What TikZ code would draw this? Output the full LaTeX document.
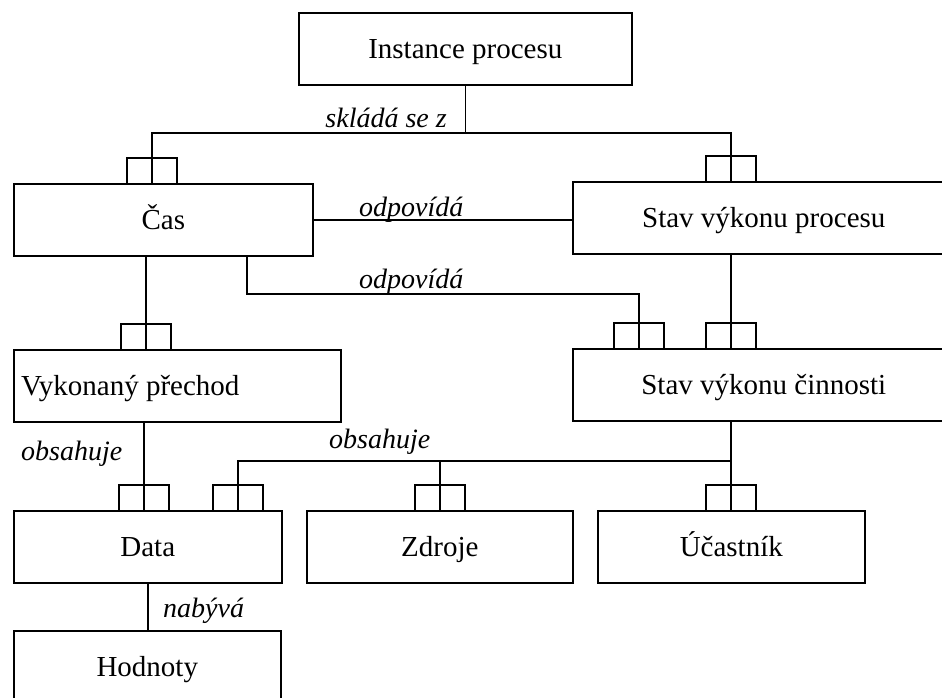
\documentclass[tikz,border=0pt]{standalone}
\usepackage{fontspec}
\setmainfont{Liberation Serif}
\usetikzlibrary{calc}
\tikzset{
  box/.style={draw, line width=1.6pt, inner sep=0pt, anchor=north west, minimum height=72pt},
  txt/.style={inner sep=0pt, font=\fontsize{29}{34}\selectfont, text height=19pt, text depth=0pt},
  lab/.style={inner sep=0pt, font=\fontsize{28}{32}\selectfont\itshape},
  conn/.style={line width=1.6pt},
  fork/.pic={\draw[conn] (-25,0) -- (-25,-25) -- (25,-25) -- (25,0);}
}
\begin{document}
\begin{tikzpicture}[x=1pt,y=-1pt]
\useasboundingbox (0,0) rectangle (942,697);
\fill[white] (0,0) rectangle (942,697);
\clip (0,0) rectangle (942,697);
% boxes
\node[box, minimum width=333pt] (inst) at (298,12) {};
\node[box, minimum width=299pt] (cas) at (13,183) {};
\node[box, minimum width=382pt] (svp) at (572,181) {};
\node[box, minimum width=327pt] (vyk) at (13,349) {};
\node[box, minimum width=382pt] (svc) at (572,348) {};
\node[box, minimum width=268pt] (data) at (13,510) {};
\node[box, minimum width=266pt] (zdroje) at (306,510) {};
\node[box, minimum width=267pt] (ucast) at (597,510) {};
\node[box, minimum width=267pt] (hod) at (13,630) {};
% box texts
\node[txt] (tinst) at (inst.center) {Instance procesu};
\node[txt] (tcas) at (cas.center) {Čas};
\node[txt] (tsvp) at (svp.center) {Stav výkonu procesu};
\node[txt, anchor=west] (tvyk) at ($(vyk.west)+(8,0)$) {Vykonaný přechod};
\node[txt] (tsvc) at (svc.center) {Stav výkonu činnosti};
\node[txt] (tdata) at (data.center) {Data};
\node[txt] (tzdr) at (zdroje.center) {Zdroje};
\node[txt] (tuc) at (ucast.center) {Účastník};
\node[txt] (thod) at (hod.center) {Hodnoty};
% fork points
\coordinate (fcas) at ($(cas.north west)+(139,0)$);
\coordinate (fsvp) at ($(svp.north west)+(159,0)$);
\coordinate (fvyk) at ($(vyk.north west)+(133,0)$);
\coordinate (fsvcA) at ($(svc.north west)+(67,0)$);
\coordinate (fsvcB) at ($(svc.north west)+(159,0)$);
\coordinate (fdatA) at ($(data.north west)+(131,0)$);
\coordinate (fdatB) at ($(data.north west)+(225,0)$);
\coordinate (fzdr) at (zdroje.north);
\coordinate (fuc) at ($(ucast.north west)+(134,0)$);
\coordinate (csvc) at ($(cas.south west)+(234,0)$);
\coordinate (busA) at (0,133);
\coordinate (busB) at (0,294);
\coordinate (busC) at (0,461);
% connectors
\draw[conn] (inst.south) -- (inst.south |- busA);
\draw[conn] (fcas) -- (fcas |- busA) -- (fsvp |- busA) -- (fsvp);
\draw[conn] (cas.east) -- (cas.east -| svp.west);
\draw[conn] (fvyk |- cas.south) -- (fvyk);
\draw[conn] (csvc) -- (csvc |- busB) -- (fsvcA |- busB) -- (fsvcA);
\draw[conn] (fsvcB |- svp.south) -- (fsvcB);
\draw[conn] (fdatA |- vyk.south) -- (fdatA);
\draw[conn] (fuc |- svc.south) -- (fuc);
\draw[conn] (fdatB) -- (fdatB |- busC) -- (fuc |- busC);
\draw[conn] (fzdr) -- (fzdr |- busC);
\draw[conn] (data.south) -- (data.south |- hod.north);
\foreach \p in {fcas,fsvp,fvyk,fsvcA,fsvcB,fdatA,fdatB,fzdr,fuc} \pic at (\p) {fork};
% labels
\node[lab, anchor=base east] (lskl) at (447,127) {skládá se z};
\node[lab, anchor=base west] (lodp1) at (359,216) {odpovídá};
\node[lab, anchor=base west] (lodp2) at (359,288) {odpovídá};
\node[lab, anchor=base west] (lobs1) at (21,460) {obsahuje};
\node[lab, anchor=base west] (lobs2) at (329,448) {obsahuje};
\node[lab, anchor=base west] (lnab) at (163,617) {nabývá};
\end{tikzpicture}
\end{document}
